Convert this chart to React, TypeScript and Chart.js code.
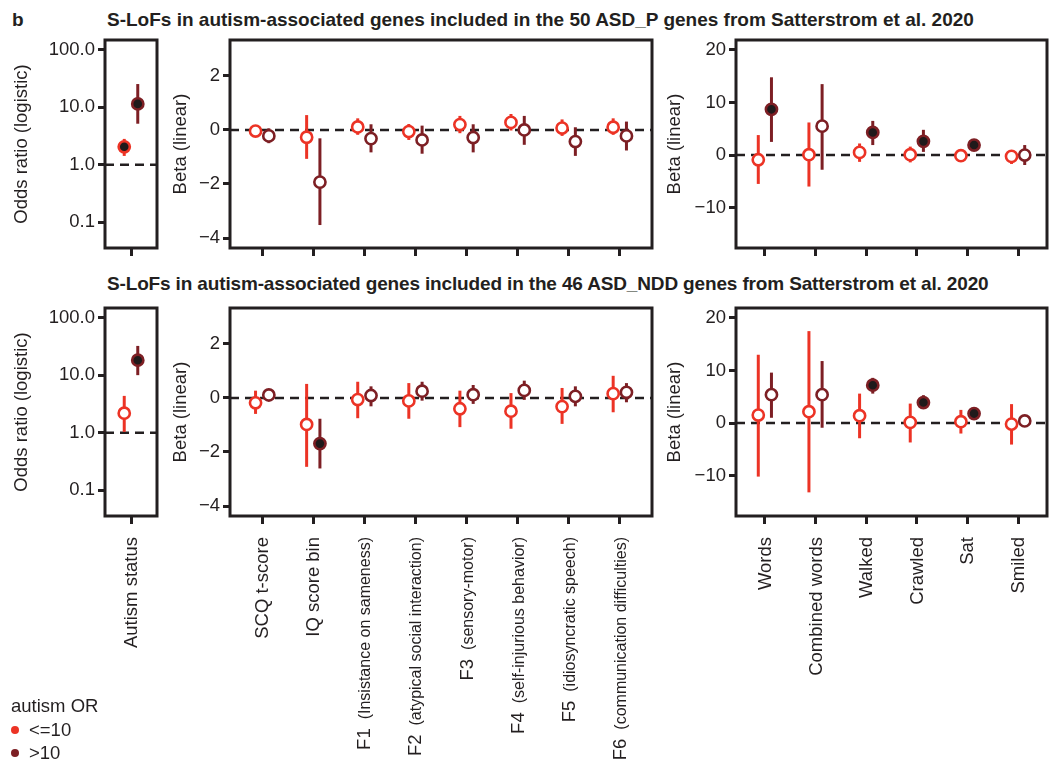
import React, { useEffect, useRef } from 'react';
import { Chart, registerables } from 'chart.js';

Chart.register(...registerables);

const FONT = '"Liberation Sans", Arial, Helvetica, sans-serif';
const INK = '#231f20';
const RED = '#ec3325';
const MAROON = '#7d1f24';
const SIG_FILL = '#1f1a1b';

// ---------- categories / tick labels ----------
const autismCats = ['Autism status'];
const traitMain = ['SCQ t-score', 'IQ score bin', 'F1', 'F2', 'F3', 'F4', 'F5', 'F6'];
const traitSub = ['', '', '(Insistance on sameness)', '(atypical social interaction)', '(sensory-motor)', '(self-injurious behavior)', '(idiosyncratic speech)', '(communication difficulties)'];
const milestoneCats = ['Words', 'Combined words', 'Walked', 'Crawled', 'Sat', 'Smiled'];

const orTicks = [0.1, 1, 10, 100];
const traitTicks = [-4, -2, 0, 2];
const milestoneTicks = [-10, 0, 10, 20];

const title1 = 'S-LoFs in autism-associated genes included in the 50 ASD_P genes from Satterstrom et al. 2020';
const title2 = 'S-LoFs in autism-associated genes included in the 46 ASD_NDD genes from Satterstrom et al. 2020';
const legendTitle = 'autism OR';
const legendLabels = ['<=10', '>10'];

// ---------- Row 1: ASD_P ----------
const pAutLowEst = [2.06];
const pAutLowLo = [1.43];
const pAutLowHi = [2.83];
const pAutLowSig = [true];
const pAutHighEst = [11.5];
const pAutHighLo = [5.2];
const pAutHighHi = [25.5];
const pAutHighSig = [true];

const pTraitLowEst = [-0.04, -0.27, 0.11, -0.06, 0.2, 0.28, 0.07, 0.1];
const pTraitLowLo = [-0.1, -1.07, -0.18, -0.37, -0.12, -0.02, -0.22, -0.18];
const pTraitLowHi = [0.02, 0.55, 0.43, 0.22, 0.52, 0.59, 0.39, 0.43];
const pTraitLowSig = [false, false, false, false, false, false, false, false];
const pTraitHighEst = [-0.22, -1.93, -0.32, -0.37, -0.28, 0.0, -0.43, -0.22];
const pTraitHighLo = [-0.49, -3.52, -0.83, -0.88, -0.83, -0.55, -0.96, -0.76];
const pTraitHighHi = [0.06, -0.31, 0.21, 0.16, 0.21, 0.52, 0.1, 0.31];
const pTraitHighSig = [false, false, false, false, false, false, false, false];

const pMileLowEst = [-0.9, 0.06, 0.5, 0.06, -0.13, -0.25];
const pMileLowLo = [-5.5, -6.0, -1.3, -1.4, -0.5, -1.7];
const pMileLowHi = [3.8, 6.2, 2.2, 1.6, 0.3, 0.8];
const pMileLowSig = [false, false, false, false, false, false];
const pMileHighEst = [8.7, 5.5, 4.3, 2.6, 1.9, 0.0];
const pMileHighLo = [2.5, -2.8, 1.9, 0.6, 1.4, -1.9];
const pMileHighHi = [14.8, 13.5, 6.5, 4.8, 2.4, 1.9];
const pMileHighSig = [true, false, true, true, true, false];

// ---------- Row 2: ASD_NDD ----------
const nAutLowEst = [2.2];
const nAutLowLo = [1.04];
const nAutLowHi = [4.4];
const nAutLowSig = [false];
const nAutHighEst = [18.4];
const nAutHighLo = [10.1];
const nAutHighHi = [32.6];
const nAutHighSig = [true];

const nTraitLowEst = [-0.18, -0.98, -0.06, -0.11, -0.4, -0.49, -0.32, 0.16];
const nTraitLowLo = [-0.59, -2.55, -0.75, -0.77, -1.08, -1.14, -0.96, -0.53];
const nTraitLowHi = [0.27, 0.52, 0.6, 0.55, 0.27, 0.18, 0.37, 0.82];
const nTraitLowSig = [false, false, false, false, false, false, false, false];
const nTraitHighEst = [0.11, -1.69, 0.09, 0.25, 0.12, 0.28, 0.06, 0.21];
const nTraitHighLo = [0.05, -2.61, -0.31, -0.1, -0.22, -0.07, -0.31, -0.16];
const nTraitHighHi = [0.17, -0.77, 0.43, 0.6, 0.48, 0.64, 0.43, 0.55];
const nTraitHighSig = [false, true, false, false, false, false, false, false];

const nMileLowEst = [1.52, 2.15, 1.4, 0.13, 0.25, -0.2];
const nMileLowLo = [-10.2, -13.2, -2.9, -3.7, -2.0, -4.1];
const nMileLowHi = [13.0, 17.5, 5.6, 3.7, 2.5, 3.6];
const nMileLowSig = [false, false, false, false, false, false];
const nMileHighEst = [5.4, 5.4, 7.2, 3.9, 1.8, 0.4];
const nMileHighLo = [1.0, -0.9, 5.6, 2.8, 1.3, 0.0];
const nMileHighHi = [9.6, 11.8, 8.6, 5.3, 2.3, 0.8];
const nMileHighSig = [false, false, true, true, true, false];

type Group = { est: number[]; lo: number[]; hi: number[]; sig: boolean[]; color: string; dodge: number };

interface PanelSpec {
  box: [number, number, number, number];
  canvasLeft: number;
  yType: 'linear' | 'logarithmic';
  yMin: number;
  yMax: number;
  yTicks: number[];
  yTitle: string;
  yFmt: (v: number) => string;
  refValue: number;
  xMin: number;
  xMax: number;
  main: string[];
  sub?: string[];
  showLabels: boolean;
  groups: Group[];
}

const fmtOR = (v: number) => Number(v).toFixed(1);
const fmtLin = (v: number) => (v < 0 ? '\u2212' + Math.abs(v) : String(v));

const PAGE_H = 760;

function Panel({ spec }: { spec: PanelSpec }) {
  const ref = useRef<HTMLCanvasElement>(null);
  const [l, t, r, b] = spec.box;
  const padTop = 10;
  const padRight = 3;
  const W = l - spec.canvasLeft;
  const H = spec.showLabels ? PAGE_H - b : 12;
  const cw = r + padRight - spec.canvasLeft;
  const ch = b + H - (t - padTop);

  useEffect(() => {
    const n = spec.main.length;
    const decor = {
      id: 'decor',
      beforeDatasetsDraw(chart: any) {
        const { ctx, chartArea } = chart;
        const xs = chart.scales.x;
        const ys = chart.scales.y;
        ctx.save();
        // reference line
        const yr = ys.getPixelForValue(spec.refValue);
        ctx.strokeStyle = INK;
        ctx.lineWidth = 2.5;
        ctx.setLineDash([9, 6]);
        ctx.beginPath();
        ctx.moveTo(chartArea.left, yr);
        ctx.lineTo(chartArea.right, yr);
        ctx.stroke();
        ctx.setLineDash([]);
        // error bars
        ctx.lineWidth = 3;
        spec.groups.forEach((g) => {
          ctx.strokeStyle = g.color;
          g.est.forEach((_, i) => {
            const x = xs.getPixelForValue(i + g.dodge);
            ctx.beginPath();
            ctx.moveTo(x, ys.getPixelForValue(g.lo[i]));
            ctx.lineTo(x, ys.getPixelForValue(g.hi[i]));
            ctx.stroke();
          });
        });
        ctx.restore();
      },
      afterDraw(chart: any) {
        const { ctx, chartArea } = chart;
        const xs = chart.scales.x;
        ctx.save();
        ctx.strokeStyle = INK;
        ctx.lineWidth = 3;
        ctx.strokeRect(chartArea.left, chartArea.top, chartArea.right - chartArea.left, chartArea.bottom - chartArea.top);
        if (spec.showLabels) {
          ctx.fillStyle = INK;
          ctx.textBaseline = 'alphabetic';
          ctx.textAlign = 'right';
          const y0 = chartArea.bottom + 21;
          for (let i = 0; i < n; i++) {
            const bx = xs.getPixelForValue(i) + 6;
            ctx.save();
            ctx.translate(bx, y0);
            ctx.rotate(-Math.PI / 2);
            const sub = spec.sub ? spec.sub[i] : '';
            let off = 0;
            if (sub) {
              ctx.font = `16px ${FONT}`;
              ctx.fillText(sub, 0, 0);
              off = ctx.measureText(sub).width + 9;
            }
            ctx.font = `18.5px ${FONT}`;
            ctx.fillText(spec.main[i], -off, 0);
            ctx.restore();
          }
        }
        ctx.restore();
      },
    };

    const chart = new Chart(ref.current as HTMLCanvasElement, {
      type: 'scatter',
      data: {
        datasets: spec.groups.map((g) => ({
          data: g.est.map((v, i) => ({ x: i + g.dodge, y: v })),
          pointRadius: 5.6,
          pointHoverRadius: 5.6,
          pointBorderWidth: 2.6,
          pointBorderColor: g.color,
          pointBackgroundColor: g.sig.map((s) => (s ? SIG_FILL : '#ffffff')),
          showLine: false,
        })),
      },
      options: {
        animation: false,
        responsive: false,
        devicePixelRatio: 1,
        events: [],
        layout: { autoPadding: false, padding: { top: padTop, right: padRight, left: 0, bottom: 0 } },
        plugins: { legend: { display: false }, tooltip: { enabled: false } },
        scales: {
          x: {
            type: 'linear',
            min: spec.xMin,
            max: spec.xMax,
            afterBuildTicks: (s: any) => {
              s.ticks = spec.main.map((_, i) => ({ value: i }));
            },
            afterFit: (s: any) => {
              s.height = H;
              s.paddingLeft = 0;
              s.paddingRight = 0;
              s.paddingTop = 0;
              s.paddingBottom = 0;
            },
            ticks: { display: false },
            grid: { drawOnChartArea: false, drawTicks: true, tickLength: 8, tickWidth: 3, tickColor: INK },
            border: { display: false },
          },
          y: {
            type: spec.yType,
            min: spec.yMin,
            max: spec.yMax,
            afterBuildTicks: (s: any) => {
              s.ticks = spec.yTicks.map((v) => ({ value: v }));
            },
            afterFit: (s: any) => {
              s.width = W;
              s.paddingTop = 0;
              s.paddingBottom = 0;
              s.paddingLeft = 0;
              s.paddingRight = 0;
            },
            ticks: {
              color: INK,
              padding: 3,
              font: { family: FONT, size: 18.5 },
              callback: (v: any) => spec.yFmt(Number(v)),
            },
            grid: { drawOnChartArea: false, drawTicks: true, tickLength: 7, tickWidth: 3, tickColor: INK },
            border: { display: false },
            title: { display: true, text: spec.yTitle, color: INK, padding: 4, font: { family: FONT, size: 18.5 } },
          },
        },
      },
      plugins: [decor],
    } as any);
    return () => chart.destroy();
  }, []);

  return (
    <canvas
      ref={ref}
      width={cw}
      height={ch}
      style={{ position: 'absolute', left: spec.canvasLeft, top: t - padTop, width: cw, height: ch }}
    />
  );
}

const AUT_DODGE = 0.26;
const DODGE = 0.13;

function grp(est: number[], lo: number[], hi: number[], sig: boolean[], color: string, dodge: number): Group {
  return { est, lo, hi, sig, color, dodge };
}

const ROW1_T = 40, ROW1_B = 248, ROW2_T = 308, ROW2_B = 516;

function autPanel(t: number, b: number, low: Group, high: Group, show: boolean): PanelSpec {
  return {
    box: [105, t, 157, b], canvasLeft: 7, yType: 'logarithmic', yMin: 0.0357, yMax: 149,
    yTicks: orTicks, yTitle: 'Odds ratio (logistic)', yFmt: fmtOR, refValue: 1,
    xMin: -1, xMax: 1, main: autismCats, showLabels: show, groups: [low, high],
  };
}
function traitPanel(t: number, b: number, low: Group, high: Group, show: boolean): PanelSpec {
  return {
    box: [230, t, 652, b], canvasLeft: 166, yType: 'linear', yMin: -4.37, yMax: 3.33,
    yTicks: traitTicks, yTitle: 'Beta (linear)', yFmt: fmtLin, refValue: 0,
    xMin: -0.63, xMax: 7.63, main: traitMain, sub: traitSub, showLabels: show, groups: [low, high],
  };
}
function milePanel(t: number, b: number, low: Group, high: Group, show: boolean): PanelSpec {
  return {
    box: [736, t, 1047, b], canvasLeft: 660, yType: 'linear', yMin: -17.7, yMax: 21.9,
    yTicks: milestoneTicks, yTitle: 'Beta (linear)', yFmt: fmtLin, refValue: 0,
    xMin: -0.57, xMax: 5.57, main: milestoneCats, showLabels: show, groups: [low, high],
  };
}

const panels: PanelSpec[] = [
  autPanel(ROW1_T, ROW1_B, grp(pAutLowEst, pAutLowLo, pAutLowHi, pAutLowSig, RED, -AUT_DODGE), grp(pAutHighEst, pAutHighLo, pAutHighHi, pAutHighSig, MAROON, AUT_DODGE), false),
  traitPanel(ROW1_T, ROW1_B, grp(pTraitLowEst, pTraitLowLo, pTraitLowHi, pTraitLowSig, RED, -DODGE), grp(pTraitHighEst, pTraitHighLo, pTraitHighHi, pTraitHighSig, MAROON, DODGE), false),
  milePanel(ROW1_T, ROW1_B, grp(pMileLowEst, pMileLowLo, pMileLowHi, pMileLowSig, RED, -DODGE), grp(pMileHighEst, pMileHighLo, pMileHighHi, pMileHighSig, MAROON, DODGE), false),
  autPanel(ROW2_T, ROW2_B, grp(nAutLowEst, nAutLowLo, nAutLowHi, nAutLowSig, RED, -AUT_DODGE), grp(nAutHighEst, nAutHighLo, nAutHighHi, nAutHighSig, MAROON, AUT_DODGE), true),
  traitPanel(ROW2_T, ROW2_B, grp(nTraitLowEst, nTraitLowLo, nTraitLowHi, nTraitLowSig, RED, -DODGE), grp(nTraitHighEst, nTraitHighLo, nTraitHighHi, nTraitHighSig, MAROON, DODGE), true),
  milePanel(ROW2_T, ROW2_B, grp(nMileLowEst, nMileLowLo, nMileLowHi, nMileLowSig, RED, -DODGE), grp(nMileHighEst, nMileHighLo, nMileHighHi, nMileHighSig, MAROON, DODGE), true),
];

const titleStyle: React.CSSProperties = {
  position: 'absolute', left: 107, fontFamily: FONT, fontWeight: 'bold', fontSize: 19,
  lineHeight: '20px', color: INK, whiteSpace: 'nowrap',
};

export default function App() {
  useEffect(() => {
    document.body.style.margin = '0';
    document.body.style.overflow = 'hidden';
  }, []);
  const legendColors = [RED, MAROON];
  return (
    <div style={{ position: 'absolute', left: 0, top: 0, width: 1050, height: 760, overflow: 'hidden', background: '#fff' }}>
      <div style={{ ...titleStyle, left: 12, top: 10 }}>b</div>
      <div style={{ ...titleStyle, top: 10 }}>{title1}</div>
      <div style={{ ...titleStyle, top: 274, letterSpacing: '-0.15px' }}>{title2}</div>
      {panels.map((p, i) => (
        <Panel key={i} spec={p} />
      ))}
      <div style={{ position: 'absolute', left: 11, top: 697, fontFamily: FONT, fontSize: 18.5, lineHeight: '18px', color: INK, whiteSpace: 'nowrap' }}>
        {legendTitle}
      </div>
      {legendLabels.map((lab, i) => (
        <div key={lab} style={{ position: 'absolute', left: 11, top: 721 + i * 23, height: 18, display: 'flex', alignItems: 'center', fontFamily: FONT, fontSize: 18.5, lineHeight: '18px', color: INK, whiteSpace: 'nowrap' }}>
          <span style={{ display: 'inline-block', width: 8, height: 8, borderRadius: 4, background: legendColors[i], marginRight: 10 }} />
          <span>{lab}</span>
        </div>
      ))}
    </div>
  );
}
